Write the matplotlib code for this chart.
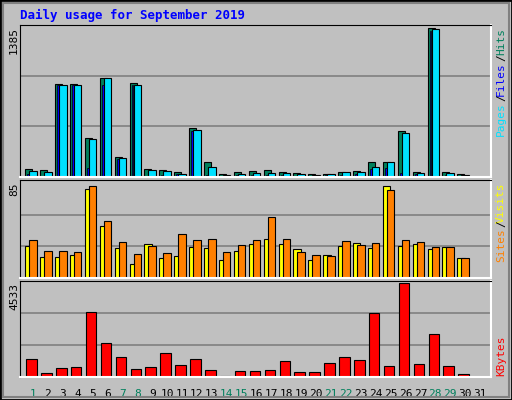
import numpy as np
import matplotlib.pyplot as plt
from matplotlib.patches import Rectangle

days = np.arange(1, 32)
hits = [78, 69, 870, 870, 361, 926, 182, 879, 78, 69, 50, 455, 144, 31, 50,
        60, 69, 50, 41, 31, 31, 50, 60, 135, 144, 427, 50, 1385, 50, 31, 0]
pages = [60, 50, 860, 860, 352, 917, 173, 860, 69, 60, 31, 436, 97, 22, 31,
         41, 41, 41, 31, 22, 31, 50, 50, 97, 135, 408, 41, 1378, 41, 22, 0]
files = [25, 10, 855, 855, 80, 860, 165, 855, 10, 20, 25, 430, 20, 10, 20,
         20, 20, 20, 10, 10, 20, 20, 25, 70, 80, 35, 25, 1360, 20, 10, 0]
visits = [28.3, 18.5, 18.5, 20.3, 79, 46.2, 26.5, 12.2, 30.1, 17.6, 19.4, 27.4,
          26.5, 15.8, 23.8, 30.1, 34.6, 30.1, 25.6, 15.8, 20.3, 28.3, 31, 26.5,
          82.5, 28.3, 30.1, 25.6, 27.4, 17.6, 0]
sites = [33.7, 23.8, 23.8, 22.9, 82, 50.7, 31.9, 21.2, 28.3, 22, 39, 33.7, 34.6,
         22.9, 29.2, 33.7, 54.2, 34.6, 22.9, 20.3, 19.4, 32.8, 29.2, 31, 78.4,
         33.7, 31.9, 27.4, 27.4, 17.6, 0]
kbytes = [890, 210, 454, 502, 3127, 1620, 988, 405, 502, 1134, 600, 890, 356, 65,
          308, 308, 356, 794, 259, 259, 697, 988, 842, 3078, 551, 4533, 648, 2057,
          551, 162, 0]
weekend = [1, 7, 8, 14, 15, 21, 22, 28, 29]

W, H = 512, 400
fig = plt.figure(figsize=(W / 100, H / 100), dpi=100)
fig.patch.set_facecolor('#c0c0c0')
# outer frame
fig.add_artist(Rectangle((0, 0), 1, 1, transform=fig.transFigure, fill=False,
                         edgecolor='black', linewidth=2))
fig.add_artist(Rectangle((3 / W, 3 / H), 1 - 6 / W, 1 - 6 / H, transform=fig.transFigure,
                         fill=False, edgecolor='#808080', linewidth=1.5))


def panel(y0, y1):
    ax = fig.add_axes([20 / W, 1 - y1 / H, 471 / W, (y1 - y0) / H])
    ax.set_facecolor('#c0c0c0')
    ax.set_xlim(0.128, 31.74)
    ax.set_xticks([])
    ax.set_yticks([])
    for s in ['top', 'left']:
        ax.spines[s].set_color('black')
    for s in ['bottom', 'right']:
        ax.spines[s].set_color('white')
        ax.spines[s].set_linewidth(1.5)
    return ax


mono = dict(family='DejaVu Sans Mono')

# hits / files / pages
ax1 = panel(25, 177)
top1 = 1415
ax1.set_ylim(0, top1)
for f in (1 / 3, 2 / 3):
    ax1.axhline(top1 * f, color='#808080', lw=1.2, zorder=0)
ax1.bar(days - 0.52, hits, width=0.47, align='edge', color='#00805c', edgecolor='black', lw=0.8)
ax1.bar(days - 0.38, files, width=0.12, align='edge', color='#0000ff', edgecolor='black', lw=0.5)
ax1.bar(days - 0.25, pages, width=0.5, align='edge', color='#00e0ff', edgecolor='black', lw=0.8)

# visits / sites
ax2 = panel(180, 278)
top2 = 85 * 285 / 277
ax2.set_ylim(0, top2)
for f in (1 / 3, 2 / 3):
    ax2.axhline(85 * f, color='#808080', lw=1.2, zorder=0)
ax2.bar(days - 0.52, visits, width=0.5, align='edge', color='#ffff00', edgecolor='black', lw=0.8)
ax2.bar(days - 0.25, sites, width=0.5, align='edge', color='#ff8000', edgecolor='black', lw=0.8)

# kbytes
ax3 = panel(281, 377)
top3 = 4533 * 280 / 274
ax3.set_ylim(0, top3)
for f in (1 / 3, 2 / 3):
    ax3.axhline(top3 * f, color='#808080', lw=1.2, zorder=0)
ax3.bar(days - 0.45, kbytes, width=0.7, align='edge', color='#ff0000', edgecolor='black', lw=0.8)

for d in days:
    ax3.text(d, -0.12, str(d), transform=ax3.get_xaxis_transform(), ha='center', va='top',
             fontsize=8, color='#00805c' if d in weekend else 'black', **mono)

fig.text(20 / W, 1 - 15 / H, 'Daily usage for September 2019', color='#0000ff',
         fontsize=9, fontweight='bold', va='center', **mono)
fig.text(14 / W, 1 - 27 / H, '1385', rotation=90, ha='center', va='top', fontsize=8, **mono)
fig.text(14 / W, 1 - 182 / H, '85', rotation=90, ha='center', va='top', fontsize=8, **mono)
fig.text(14 / W, 1 - 283 / H, '4533', rotation=90, ha='center', va='top', fontsize=8, **mono)


# right-side legends, stacked top-down
def rlabel(y_top, parts):
    y = 1 - y_top / H
    for txt, col in parts:
        fig.text(501 / W, y, txt, rotation=90, ha='center', va='top', fontsize=8,
                 color=col, **mono)
        y -= (len(txt) * 6.2 + 1.5) / H

rlabel(28, [('Hits', '#00805c'), ('/', 'black'), ('Files', '#0000ff'),
            ('/', 'black'), ('Pages', '#00e0ff')])
rlabel(182, [('Visits', '#ffff00'), ('/', 'black'), ('Sites', '#ff8000')])
rlabel(335, [('KBytes', '#ff0000')])

fig.savefig('out.png', dpi=100, facecolor=fig.get_facecolor())
